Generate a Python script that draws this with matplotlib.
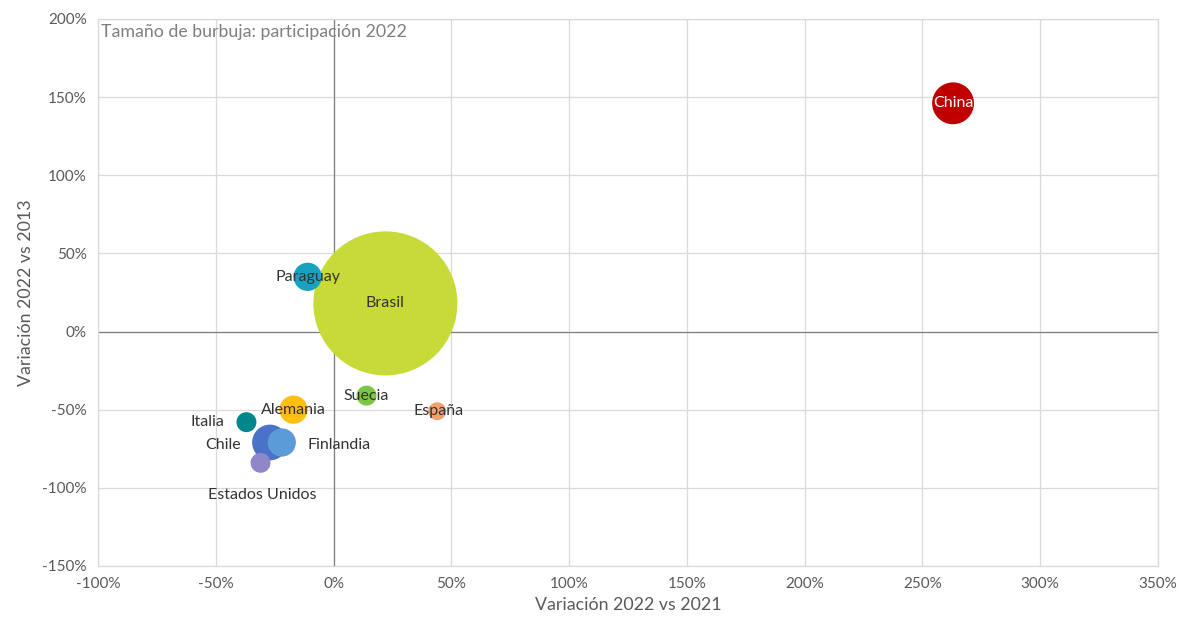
import matplotlib

matplotlib.use("Agg")
import matplotlib.pyplot as plt
from matplotlib.ticker import FuncFormatter, MultipleLocator

# datos (en %)
paises = ["Brasil", "China", "Chile", "Paraguay", "Finlandia", "Alemania",
          "Suecia", "Italia", "Estados Unidos", "España"]
var_2021 = [22, 263, -27, -11, -22, -17, 14, -37, -31, 44]
var_2013 = [18, 146, -71, 35, -71, -50, -41, -58, -84, -51]
participacion = [52.0, 4.4, 3.2, 2.0, 2.0, 2.0, 1.0, 1.0, 1.0, 0.8]
colores = ["#C8DA37", "#C00000", "#4A72C8", "#17A3BF", "#5B9BD8", "#FFBE12",
           "#7CC644", "#00878C", "#8F87C8", "#F3A06E"]
# desplazamiento de la etiqueta (puntos) y color del texto
offsets = [(0, 0), (0, 0), (-34, -1.5), (0, 0), (41, -1.5), (0, 0),
           (0, 0), (-28, 0), (1, -23), (1, 0)]
text_col = ["#333333", "white"] + ["#333333"] * 8

plt.rcParams["font.family"] = ["Lato", "DejaVu Sans"]

fig = plt.figure(figsize=(11.81, 6.24), dpi=100)
ax = fig.add_axes([0.083, 0.093, 0.8975, 0.8767])

k = 206.8  # area en pt^2 por punto de participación
ax.scatter(var_2021, var_2013, s=[p * k for p in participacion],
           c=colores, edgecolors="none", zorder=3)

for name, x, y, off, tc in zip(paises, var_2021, var_2013, offsets, text_col):
    ax.annotate(name, (x, y), xytext=off, textcoords="offset points",
                ha="center", va="center", fontsize=11.5, color=tc, zorder=5)

ax.set_xlim(-100, 350)
ax.set_ylim(-150, 200)
ax.xaxis.set_major_locator(MultipleLocator(50))
ax.yaxis.set_major_locator(MultipleLocator(50))
pct = FuncFormatter(lambda v, _: f"{v:.0f}%")
ax.xaxis.set_major_formatter(pct)
ax.yaxis.set_major_formatter(pct)
ax.tick_params(length=0, labelsize=11, colors="#595959", pad=8)

ax.grid(color="#D9D9D9", linewidth=0.9, zorder=0)
ax.set_axisbelow(True)
for s in ax.spines.values():
    s.set_color("#D9D9D9")
    s.set_linewidth(0.9)
ax.axhline(0, color="#7F7F7F", linewidth=0.9, zorder=1)
ax.axvline(0, color="#7F7F7F", linewidth=0.9, zorder=1)

ax.text(0.003, 0.99, "Tamaño de burbuja: participación 2022",
        transform=ax.transAxes, ha="left", va="top",
        fontsize=12.8, color="#7F7F7F")

ax.set_xlabel("Variación 2022 vs 2021", fontsize=12.8, color="#595959", labelpad=4)
ax.set_ylabel("Variación 2022 vs 2013", fontsize=12.8, color="#595959", labelpad=6)

fig.savefig("out.png", dpi=100)
